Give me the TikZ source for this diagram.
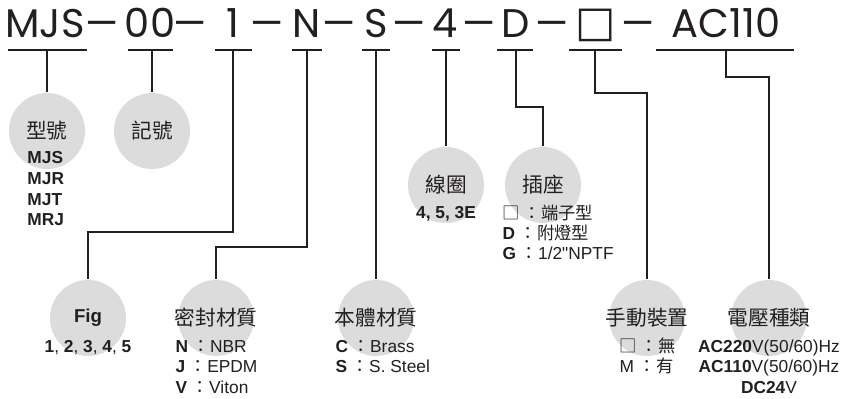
\documentclass[tikz,border=0pt]{standalone}
\usepackage{fontspec}
\setmainfont{Liberation Sans}
\newfontfamily\cjk{Noto Sans CJK TC}
\newfontfamily\codefont{Poppins}
\newfontfamily\symfont{DejaVu Sans}
\newfontfamily\plainsans{Liberation Sans}
\definecolor{bubblegray}{HTML}{DCDCDC}
\definecolor{ink}{HTML}{231F20}

\tikzset{every picture/.style={line width=0.75pt}}
\tikzset{
  code/.style={font=\codefont\fontsize{30}{34}\selectfont, text=ink, inner sep=0pt, anchor=base},
  sep/.style={font=\codefont\fontsize{30}{34}\selectfont, text=ink, inner sep=0pt, anchor=base},
  bubble/.style={circle, fill=bubblegray, minimum size=57pt, inner sep=0pt},
  title/.style={font=\cjk\fontsize{15.5}{18}\selectfont, text=ink, inner sep=0pt},
  opts/.style={font=\fontsize{13}{15.2}\selectfont, text=ink, inner sep=0pt, align=left, anchor=base west},
  link/.style={draw=ink, line width=1pt},
}

\begin{document}
\begin{tikzpicture}[x=0.75pt,y=0.75pt,yscale=-1,xscale=1]
    \useasboundingbox (0,0) rectangle (847,399);
    % Code line
    \node[code] (mjs) at (45,38) {MJS};
    \node[code] (zero) at (150,38) {00};
    \node[code] (one) at (233,38) {1};
    \node[code] (nseal) at (307,38) {N};
    \node[code] (sbody) at (376,38) {S};
    \node[code] (four) at (445,38) {4};
    \node[code] (dplug) at (516,38) {D};
    \node[code, font=\symfont\fontsize{32}{36}\selectfont] (blank) at (596,37) {□};
    \node[code] (acv) at (726,38) {AC110};
    \foreach \x in {102,190,267,339,409,479,552,638}
        \node[sep] (sep\x) at (\x,38) {\scalebox{1.3}[1]{–}};
    % Underlines and their ticks
    \foreach \a/\b/\t/\n in {8/87/47/uMJS, 128/173/152/uZero, 215/252/233/uOne, 292/322/307/uN, 362/390/376/uS, 432/460/446/uFour, 497/533/516/uD, 569/622/595/uBlank, 656/794/726/uAC}{
        \draw[link] (\a,50) -- (\b,50);
        \coordinate (\n) at (\t,50);
    }
    % Bubbles
    \node[bubble] (cModel) at (47,131) {};
    \node[bubble] (cMark) at (152,131) {};
    \node[bubble] (cCoil) at (446,185) {};
    \node[bubble] (cPlug) at (543,185) {};
    \node[bubble] (cFig) at (88,318) {};
    \node[bubble] (cSeal) at (216,318) {};
    \node[bubble] (cBody) at (376,318) {};
    \node[bubble] (cManual) at (647,318) {};
    \node[bubble] (cVolt) at (769,318) {};
    % Connectors
    \draw[link] (uMJS) -- (cModel.north);
    \draw[link] (uZero) -- (cMark.north);
    \draw[link] (uOne) -- ++(0,182) -| (cFig.north);
    \draw[link] (uN) -- ++(0,197) -| (cSeal.north);
    \draw[link] (uS) -- (cBody.north);
    \draw[link] (uFour) -- (cCoil.north);
    \draw[link] (uD) -- ++(0,57) -| (cPlug.north);
    \draw[link] (uBlank) -- ++(0,43) -| (cManual.north);
    \draw[link] (uAC) -- ++(0,27) -| (cVolt.north);
    % Titles
    \node[title] (tModel) at (cModel) {型號};
    \node[title] (tMark) at (cMark) {記號};
    \node[title] (tCoil) at (cCoil) {線圈};
    \node[title] (tPlug) at (cPlug) {插座};
    \node[title, font=\bfseries\fontsize{14}{16}\selectfont] (tFig) at (cFig) {Fig};
    \node[title] (tSeal) at (cSeal) {密封材質};
    \node[title] (tBody) at (cBody) {本體材質};
    \node[title] (tManual) at (cManual) {手動裝置};
    \node[title] (tVolt) at (cVolt) {電壓種類};
    % Options (multi-line nodes sit on their last baseline)
    \node[opts, font=\bfseries\fontsize{13}{15.5}\selectfont] (oModel) at (27,226) {MJS\\MJR\\MJT\\MRJ};
    \node[opts, anchor=base, font=\bfseries\fontsize{13}{15}\selectfont] (oCoil) at (446,219) {4, 5, 3E};
    \node[opts] (oPlug) at (502,260) {{\cjk □ ：端子型}\\\textbf{D} {\cjk ：附燈型}\\\textbf{G} {\cjk ：}1/2{\plainsans "}NPTF};
    \node[opts, anchor=base] (oFig) at (88,353) {\textbf{1}, \textbf{2}, \textbf{3}, \textbf{4}, \textbf{5}};
    \node[opts] (oSeal) at (175,393) {\textbf{N} {\cjk ：}NBR\\\textbf{J} {\cjk ：}EPDM\\\textbf{V} {\cjk ：}Viton};
    \node[opts] (oBody) at (335,373) {\textbf{C} {\cjk ：}Brass\\\textbf{S} {\cjk ：}S. Steel};
    \node[opts] (oManual) at (619,373) {{\cjk □ ：無}\\M {\cjk ：有}};
    \node[opts, anchor=base, align=center] (oVolt) at (769,393) {\textbf{AC220}V(50/60)Hz\\\textbf{AC110}V(50/60)Hz\\\textbf{DC24}V};
\end{tikzpicture}
\end{document}
